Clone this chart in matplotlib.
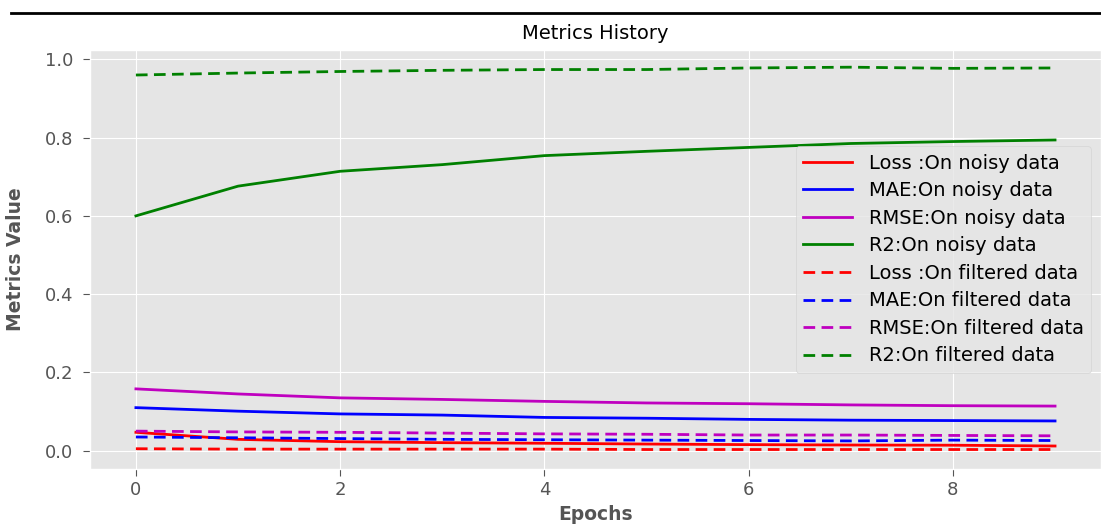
import numpy as np
import matplotlib
matplotlib.use("Agg")
import matplotlib.pyplot as plt
from matplotlib.lines import Line2D

plt.style.use('ggplot')

# Data
epochs = list(range(10))

loss_noisy = [0.047, 0.029, 0.023, 0.0205, 0.019, 0.017, 0.0155, 0.0145, 0.014, 0.012]
mae_noisy = [0.110, 0.101, 0.094, 0.091, 0.085, 0.083, 0.080, 0.078, 0.077, 0.076]
rmse_noisy = [0.158, 0.145, 0.135, 0.131, 0.126, 0.122, 0.120, 0.117, 0.115, 0.114]
r2_noisy = [0.600, 0.676, 0.714, 0.731, 0.754, 0.765, 0.775, 0.785, 0.790, 0.794]

loss_filtered = [0.005, 0.004, 0.004, 0.004, 0.004, 0.003, 0.003, 0.003, 0.003, 0.003]
mae_filtered = [0.035, 0.033, 0.031, 0.029, 0.028, 0.027, 0.026, 0.025, 0.027, 0.026]
rmse_filtered = [0.050, 0.048, 0.047, 0.045, 0.043, 0.042, 0.040, 0.040, 0.039, 0.038]
r2_filtered = [0.960, 0.965, 0.969, 0.972, 0.974, 0.974, 0.978, 0.980, 0.977, 0.978]

fig = plt.figure(figsize=(11.01, 5.29), dpi=100)
fig.patch.set_facecolor('white')
ax = fig.add_axes([0.0817, 0.1134, 0.9183, 0.792])

dash = (0, (4.2, 2.3))
lw = 2

ax.plot(epochs, loss_noisy, color='r', lw=lw, label='Loss :On noisy data')
ax.plot(epochs, mae_noisy, color='b', lw=lw, label='MAE:On noisy data')
ax.plot(epochs, rmse_noisy, color='m', lw=lw, label='RMSE:On noisy data')
ax.plot(epochs, r2_noisy, color='g', lw=lw, label='R2:On noisy data')
ax.plot(epochs, loss_filtered, color='r', lw=lw, ls=dash, label='Loss :On filtered data')
ax.plot(epochs, mae_filtered, color='b', lw=lw, ls=dash, label='MAE:On filtered data')
ax.plot(epochs, rmse_filtered, color='m', lw=lw, ls=dash, label='RMSE:On filtered data')
ax.plot(epochs, r2_filtered, color='g', lw=lw, ls=dash, label='R2:On filtered data')

ax.set_xlim(-0.45, 9.45)
ax.set_ylim(-0.0468, 1.0238)
ax.set_xticks([0, 2, 4, 6, 8])
ax.set_yticks([0.0, 0.2, 0.4, 0.6, 0.8, 1.0])
ax.tick_params(labelsize=13, colors='#555555', length=5)
ax.tick_params(axis='y', pad=7)

ax.set_title('Metrics History', fontsize=14, color='black', pad=8)
ax.set_xlabel('Epochs', fontsize=13.5, fontweight='bold', color='#555555')
ax.set_ylabel('Metrics Value', fontsize=13.5, fontweight='bold', color='#555555')
ax.yaxis.set_label_coords(-0.064, 0.5)
ax.xaxis.set_label_coords(0.5, -0.085)

leg = ax.legend(loc='center right', fontsize=14, framealpha=0.8,
                handlelength=2.5, handletextpad=0.85, labelspacing=0.44)
leg.get_frame().set_facecolor('#e5e5e5')
leg.get_frame().set_edgecolor('#d0d0d0')

# thin black rule across the top of the image
fig.add_artist(Line2D([0.01, 1.0], [0.975, 0.975], transform=fig.transFigure,
                      color='black', lw=2))

fig.savefig('out.png', dpi=100)
